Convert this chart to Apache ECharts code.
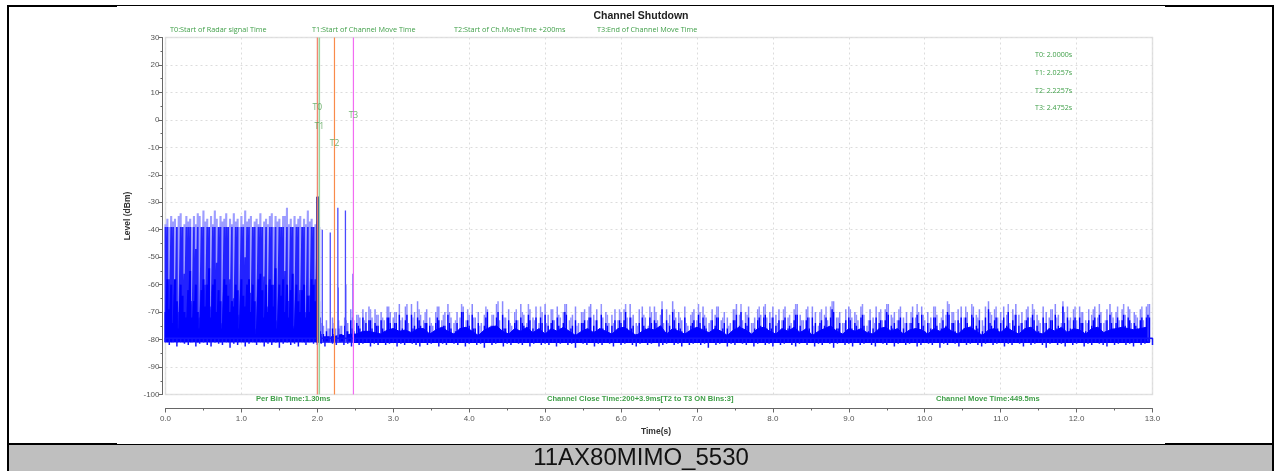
<!DOCTYPE html>
<html><head><meta charset="utf-8">
<style>html,body{margin:0;padding:0;background:#fff;overflow:hidden}#c{width:1276px;height:471px;filter:blur(0.35px)}</style>
<script src="https://cdn.jsdelivr.net/npm/echarts@6/dist/echarts.min.js"></script>
</head><body><div id="c"></div>
<script>
// Marker times (s), colours and label levels
const markerNames = ['T0','T1','T2','T3'];
const markerTimes = [2.0000,2.0257,2.2257,2.4752];
const markerLabelLevels = [4.3,-2.6,-8.8,1.4];
const markerColors = ['#f4806a','#9fd49f','#f98b4a','#f26cf2'];
// Radar burst section, one value every 0.025 s from t=0
const burstTops = [-38,-36,-39,-35,-37,-36,-39,-35,-34,-39,-38,-35,-37,-36,-39,-35,-38,-34,-35,-39,-33,-37,-36,-39,-35,-38,-33,-36,-39,-35,-37,-36,-34,-39,-36,-38,-34,-37,-36,-39,-35,-38,-33,-37,-36,-35,-39,-37,-36,-38,-34,-39,-37,-36,-38,-35,-34,-39,-35,-37,-36,-39,-35,-35,-32,-38,-36,-39,-35,-38,-36,-35,-39,-36,-38,-33,-37,-36,-39,-38,-37,-39];
const burstLevels = [-39,-39,-58,-39,-39,-62,-39,-70,-39,-39,-56,-39,-39,-39,-66,-39,-47,-39,-72,-39,-39,-60,-39,-39,-68,-39,-39,-52,-39,-39,-74,-39,-39,-39,-58,-39,-65,-39,-39,-71,-39,-39,-50,-39,-39,-63,-39,-39,-76,-39,-39,-39,-57,-39,-68,-39,-39,-60,-39,-73,-39,-39,-39,-55,-39,-66,-39,-39,-75,-39,-39,-62,-39,-39,-70,-39,-64,-39,-39,-58,-39,-66];
const burstBody = [-70,-58,-69,-60,-74,-58,-66,-76,-60,-64,-70,-72,-62,-55,-72,-66,-60,-70,-76,-62,-58,-68,-60,-54,-72,-60,-58,-70,-62,-66,-76,-58,-60,-64,-70,-66,-68,-60,-62,-76,-58,-64,-68,-60,-58,-70,-60,-66,-78,-58,-56,-62,-72,-60,-70,-58,-60,-68,-54,-76,-60,-64,-58,-70,-60,-72,-62,-56,-76,-60,-66,-70,-62,-60,-72,-64,-70,-58,-60,-66,-62,-72];
// Noise after the channel move, one value every 0.04 s from t=2.04
const noiseTops = [
-72,-75,-73,-76,-72,-76,-73,-75,-72,-74,-69,-73,-71,-72,-69,-70,-68,-72,-69,-71,-70,-73,-68,-70,-72,
-70,-67,-72,-68,-74,-67,-70,-66,-71,-73,-69,-72,-75,-70,-68,-73,-70,-67,-72,-74,-70,-72,-68,-73,-71,
-67,-72,-70,-74,-71,-69,-75,-71,-67,-73,-66,-72,-69,-75,-70,-73,-67,-71,-74,-69,-72,-68,-74,-70,-67,
-71,-69,-73,-68,-72,-70,-67,-73,-71,-68,-74,-70,-69,-73,-67,-71,-69,-76,-72,-70,-74,-71,-69,-73,-70,
-69,-72,-67,-71,-74,-69,-68,-72,-75,-70,-68,-73,-71,-74,-69,-71,-66,-72,-70,-73,-68,-75,-71,-69,-73,
-70,-68,-72,-74,-69,-71,-68,-73,-70,-72,-74,-69,-67,-71,-73,-70,-68,-74,-72,-69,-71,-68,-72,-70,-68,
-71,-69,-73,-68,-72,-74,-69,-67,-71,-73,-69,-72,-68,-70,-75,-69,-71,-73,-68,-66,-72,-70,-74,-69,-68,
-72,-70,-73,-68,-71,-75,-69,-72,-68,-70,-73,-69,-67,-71,-70,-73,-68,-72,-70,-74,-68,-72,-70,-68,-73,
-70,-72,-68,-71,-74,-69,-71,-67,-70,-73,-69,-68,-72,-70,-75,-68,-71,-69,-73,-68,-66,-71,-69,-72,-70,
-68,-71,-74,-69,-67,-71,-70,-73,-68,-72,-69,-71,-74,-68,-70,-72,-69,-67,-71,-74,-70,-68,-72,-69,-73,
-68,-70,-73,-69,-71,-68,-72,-70,-74,-69,-67,-72,-70,-73,-69,-71,-68,-74,-70,-72,-69,-73,-68,-67];
const noiseBody = [
-77,-78,-77,-79,-76,-79,-76,-78,-75,-77,-73,-77,-74,-76,-72,-74,-73,-76,-74,-75,-73,-77,-72,-74,-76,
-74,-71,-76,-73,-78,-71,-75,-72,-75,-77,-74,-75,-78,-74,-73,-77,-75,-71,-76,-78,-74,-76,-70,-77,-75,
-71,-76,-74,-78,-75,-70,-78,-75,-72,-77,-71,-76,-73,-78,-74,-77,-72,-75,-78,-73,-76,-72,-77,-74,-71,
-75,-74,-77,-72,-76,-74,-71,-77,-75,-73,-78,-74,-73,-77,-72,-75,-73,-79,-76,-74,-78,-75,-73,-77,-74,
-73,-76,-72,-75,-78,-74,-72,-76,-78,-74,-73,-77,-75,-78,-73,-75,-70,-76,-74,-77,-72,-78,-75,-73,-77,
-74,-72,-76,-78,-73,-75,-72,-77,-74,-76,-78,-73,-71,-75,-77,-74,-72,-78,-76,-73,-75,-72,-76,-74,-72,
-75,-73,-77,-72,-76,-78,-73,-71,-75,-77,-73,-76,-72,-74,-78,-73,-75,-77,-72,-70,-76,-74,-78,-73,-72,
-76,-74,-77,-72,-75,-78,-73,-76,-72,-74,-77,-73,-71,-75,-74,-77,-72,-76,-74,-78,-72,-76,-74,-71,-77,
-74,-76,-72,-75,-78,-73,-75,-71,-74,-77,-73,-72,-76,-74,-78,-72,-75,-73,-77,-72,-69,-75,-73,-76,-74,
-72,-75,-78,-73,-71,-75,-74,-77,-72,-76,-73,-75,-78,-72,-74,-76,-73,-71,-75,-78,-74,-72,-76,-73,-77,
-72,-74,-77,-73,-75,-72,-76,-74,-78,-73,-71,-76,-74,-77,-73,-75,-72,-78,-74,-76,-73,-77,-72,-72];
// Extra pulses between the others, one value every 0.08 s from t=2.06
const extraTops = [
-74,-76,-74,-75,-73,-72,-71,-73,-69,-71,-72,-68,-70,-73,-67,
-72,-69,-70,-74,-68,-71,-70,-73,-67,-69,-72,-75,-68,-71,-66,
-72,-74,-69,-70,-67,-73,-68,-74,-69,-71,-67,-72,-75,-70,-68,
-73,-67,-71,-74,-69,-67,-72,-75,-71,-68,-70,-66,-74,-69,-72,
-74,-70,-67,-71,-73,-68,-72,-75,-69,-67,-71,-74,-68,-67,-72,
-74,-69,-71,-67,-73,-68,-75,-70,-68,-66,-72,-74,-69,-71,-67,
-73,-74,-69,-67,-72,-69,-74,-70,-67,-71,-74,-68,-72,-66,-70,
-74,-68,-67,-72,-75,-70,-68,-73,-67,-71,-74,-69,-67,-73,-74,
-69,-72,-66,-73,-68,-70,-74,-69,-67,-73,-70,-68,-67,-69,-71,-68,-67];
const extraBody = [
-78,-79,-78,-78,-77,-76,-75,-77,-73,-75,-76,-72,-74,-77,-71,
-76,-73,-74,-78,-72,-75,-74,-77,-70,-73,-76,-79,-72,-75,-70,
-76,-78,-73,-74,-71,-77,-72,-78,-73,-75,-70,-76,-79,-74,-72,
-77,-71,-75,-78,-73,-70,-76,-79,-75,-72,-74,-69,-78,-73,-76,
-78,-74,-71,-75,-77,-72,-76,-79,-73,-70,-75,-78,-72,-71,-76,
-78,-73,-75,-71,-77,-72,-79,-74,-72,-69,-76,-78,-73,-75,-71,
-77,-78,-73,-70,-76,-73,-78,-74,-71,-75,-78,-72,-76,-70,-74,
-78,-72,-71,-76,-79,-74,-72,-77,-70,-75,-78,-73,-71,-77,-78,
-73,-76,-68,-77,-72,-74,-78,-73,-71,-77,-74,-72,-71,-73,-75,-72,-71];
// Top of the solid mass of the noise, one value every 0.08 s from t=2.04
const bandLevels = [
-79,-79,-79,-78.5,-78.5,-78,-78,-77,-77,-77.5,-78,-76.5,-76,-77,-76.5,
-77.5,-76,-76,-78,-76.5,-75.5,-77,-78,-76,-75.5,-77,-78.5,-76.5,-75.5,-75,
-77,-78,-76,-77,-75.5,-77.5,-76,-78,-76,-77,-75.5,-77,-78.5,-77,-76,
-77.5,-76,-77,-78,-76,-75.5,-77,-78.5,-77,-76,-76.5,-75,-78,-76,-77,
-78,-76.5,-75.5,-76.5,-77.5,-76,-77,-78.5,-76.5,-75.5,-76.5,-78,-76,-75.5,-77,
-78,-76,-77,-75.5,-77.5,-76,-78.5,-77,-76,-75,-77,-78,-76,-77,-76,
-77.5,-78,-76,-75.5,-77,-76,-78,-76.5,-76,-76.5,-78,-76,-77,-75.5,-77,
-78,-76,-75.5,-77,-78.5,-76.5,-76,-77.5,-75.5,-77,-78,-76,-75.5,-77.5,-78,
-76,-77,-75.5,-77.5,-76,-76.5,-78,-76,-75.5,-77.5,-76.5,-76,-75.5,-76,-76.5,-76,-75.5];
// Lower edge of the trace, one value every 0.05 s from t=0
const floorLevels = [
-81,-82,-81,-82.5,-81,-81.5,-82,-81,-82.5,-81.5,-81,-82,-82.5,-81,-81.5,-82,-81,-83,-81.5,-82,
-81,-82.5,-81.5,-81,-82,-81,-82.5,-81.5,-82,-81,-83,-81.5,-81,-82,-81.5,-82.5,-81,-82,-81,-81.5,
-82,-81.5,-82.5,-81,-81.5,-82,-81,-82,-81.5,-82.5,-81,-82,-81.5,-81,-82.5,-81.5,-82,-81,-82,-81.5,
-81,-82.5,-81.5,-82,-81,-81.5,-82,-82.5,-81,-82,-81.5,-81,-82.5,-81.5,-82,-81,-81.5,-82,-81,-82.5,
-81.5,-81,-82,-81.5,-83,-81,-82,-81.5,-81,-82.5,-81.5,-82,-81,-81.5,-82,-81,-82.5,-81.5,-81,-82,
-81.5,-82,-81,-82.5,-81.5,-81,-82,-81.5,-83,-81,-81.5,-82,-81,-82.5,-81.5,-82,-81,-81.5,-82.5,-81,
-82,-81.5,-81,-82,-82.5,-81.5,-81,-82,-81.5,-81,-82.5,-82,-81.5,-81,-82,-81.5,-82.5,-81,-82,-81.5,
-81,-82,-81.5,-83,-81,-82,-81.5,-81,-82.5,-81.5,-82,-81,-81.5,-82,-81,-82.5,-81.5,-81,-82,-81.5,
-82.5,-81,-82,-81.5,-81,-82,-82.5,-81.5,-81,-82,-81,-82.5,-81.5,-82,-81,-81.5,-83,-81.5,-81,-82,
-81.5,-82.5,-81,-82,-81.5,-81,-82,-82.5,-81,-81.5,-82,-81,-82.5,-81.5,-81,-82,-81.5,-81,-82.5,-82,
-81,-81.5,-82,-81,-83,-81.5,-82,-81,-81.5,-82.5,-81,-82,-81.5,-81,-82,-82.5,-81.5,-81,-82,-81.5,
-81,-82.5,-81.5,-82,-81,-81.5,-82.5,-81,-82,-81.5,-81,-82,-83,-81.5,-81,-82,-81.5,-82.5,-81,-82,
-81.5,-81,-82.5,-81.5,-82,-81,-81.5,-82,-82.5,-81,-82,-81.5,-81,-82,-81.5,-82.5,-81,-82,-81.5,-81,-82];
// Isolated pulses after T1
const pulseTimes = [2.065,2.17,2.27,2.37,2.47,2.275,2.375];
const pulseLevels = [-40,-41,-32,-33,-56,-61,-60];
// Strong pulse at T0
const strongTimes = [1.995,2.005,2.015,2.025];
const strongLevels = [-28,-28,-28,-28];
// Axis ticks
const xTicks = [0,1,2,3,4,5,6,7,8,9,10,11,12,13];
const yMin = -100, yMax = 30, xMin = 0, xMax = 13;
// Texts
const headNotes = ['T0:Start of Radar signal Time','T1:Start of Channel Move Time','T2:Start of Ch.MoveTime +200ms','T3:End of Channel Move Time'];
const valueNotes = ['T0: 2.0000s','T1: 2.0257s','T2: 2.2257s','T3: 2.4752s'];
const footNotes = ['Per Bin Time:1.30ms','Channel Close Time:200+3.9ms[T2 to T3 ON Bins:3]','Channel Move Time:449.5ms'];
const caption = '11AX80MIMO_5530';

function comb(start, step, vals, base){
  const out = [];
  vals.forEach((v,i)=>{const t=start+i*step; out.push([t,base],[t,v],[t,base]);});
  return out;
}
function combAt(times, vals, base){
  const out = [];
  vals.forEach((v,i)=>{out.push([times[i],base],[times[i],v],[times[i],base]);});
  return out;
}
function trace(data,color,width,z){
  return {type:'line',data,showSymbol:false,symbol:'none',silent:true,animation:false,z,
    lineStyle:{color,width,join:'bevel',cap:'butt'}};
}
const green = '#3f9f48';
const noteFont = '"Open Sans"';
const graphics = [];
function rect(x,y,w,h,fill,z=1){graphics.push({type:'rect',silent:true,z,shape:{x,y,width:w,height:h},style:{fill}});}
function txt(x,y,text,style){graphics.push({type:'text',silent:true,z:60,x,y,style:Object.assign({text,textVerticalAlign:'middle'},style)});}
rect(9,445,1264,26,'#bfbfbf');
rect(7,5,2,466,'#000'); rect(1272,5,2,466,'#000');
rect(7,5,110,2,'#000'); rect(117,5,1048,1,'#000'); rect(1165,5,109,2,'#000');
rect(7,443,110,2,'#000'); rect(117,444,1048,1,'#000'); rect(1165,443,109,2,'#000');
[170,312,454,597].forEach((x,i)=>txt(x,30,headNotes[i],{fill:green,font:'7.25px '+noteFont}));
[55,73,91,108].forEach((y,i)=>txt(1035,y,valueNotes[i],{fill:green,font:'7.1px '+noteFont}));
[256,547,936].forEach((x,i)=>txt(x,399,footNotes[i],{fill:green,font:'bold 7.6px "Liberation Sans"'}));
txt(641,16,'Channel Shutdown',{fill:'#222',font:'bold 10.5px "Liberation Sans"',textAlign:'center'});
txt(641,458,caption,{fill:'#111',font:'24px "Liberation Sans"',textAlign:'center'});

const series = [
  trace(comb(0,0.025,burstTops,-81),'#9d9dff',2.1,2),
  trace(comb(0,0.025,burstLevels,-81),'#2222ff',1.7,3),
  trace(comb(0,0.025,burstBody,-81),'#0000ff',2,4),
  trace(comb(2.04,0.04,noiseTops,-81),'#8888ff',1.5,2),
  trace(comb(2.06,0.08,extraTops,-81),'#9494ff',1.5,2),
  trace(comb(2.04,0.04,noiseBody,-81),'#0000ff',1.4,4),
  trace(comb(2.06,0.08,extraBody,-81),'#0000ff',1.4,4),
  Object.assign(trace(bandLevels.map((v,i)=>[2.04+i*0.08,v]),'#0000ff',1,4),{areaStyle:{color:'#0000ff',opacity:1,origin:-81}}),
  trace(combAt(pulseTimes,pulseLevels,-81),'#4a4aff',1.3,4),
  trace(combAt(strongTimes,strongLevels,-81),'#00009a',1,6),
  trace(comb(0,0.05,floorLevels,-79.5),'#1414ff',1.5,5),
  ...markerTimes.map((t,i)=>trace([[t,yMax],[t,yMin]],markerColors[i],i===1?1.6:1.2,8)),
  {type:'scatter',symbolSize:0,silent:true,animation:false,z:50,
   data:markerTimes.map((t,i)=>({value:[t,markerLabelLevels[i]],
     label:{show:true,position:'inside',formatter:markerNames[i],color:'#4f9f4f',fontSize:8.5,fontFamily:noteFont}}))}
];
const axisColor='#666', labelColor='#555';
const chart = echarts.init(document.getElementById('c'),null,{renderer:'canvas'});
chart.setOption({
  animation:false,
  backgroundColor:'#fff',
  graphic:{elements:graphics},
  grid:{left:165.5,top:37.5,width:987,height:357,show:true,borderColor:'#e2e2e2',borderWidth:1.5,containLabel:false,backgroundColor:'#fff'},
  xAxis:{type:'value',min:xMin,max:xMax,interval:1,offset:14,position:'bottom',
    name:'Time(s)',nameLocation:'middle',nameGap:10,
    nameTextStyle:{fontSize:8.5,fontWeight:'bold',color:'#333',fontFamily:'Liberation Sans',padding:[0,6,0,0]},
    axisLine:{show:true,onZero:false,lineStyle:{color:axisColor,width:1}},
    axisTick:{show:true,inside:false,length:4,lineStyle:{color:axisColor}},
    minorTick:{show:true,splitNumber:2,length:2,lineStyle:{color:axisColor}},
    axisLabel:{fontSize:8,color:labelColor,margin:6,fontFamily:'Liberation Sans',showMinLabel:true,showMaxLabel:true,formatter:v=>xTicks.includes(v)?v.toFixed(1):''},
    splitLine:{show:true,lineStyle:{type:[2,3],color:'#dcdcdc',width:1}}},
  yAxis:{type:'value',min:yMin,max:yMax,interval:10,offset:3,position:'left',
    name:'Level (dBm)',nameLocation:'middle',nameGap:18,nameRotate:90,
    nameTextStyle:{fontSize:8.5,fontWeight:'bold',color:'#333',fontFamily:'Liberation Sans'},
    axisLine:{show:true,onZero:false,lineStyle:{color:axisColor,width:1}},
    axisTick:{show:true,inside:false,length:4,lineStyle:{color:axisColor}},
    minorTick:{show:true,splitNumber:2,length:2,lineStyle:{color:axisColor}},
    axisLabel:{fontSize:8,color:labelColor,margin:3,fontFamily:'Liberation Sans'},
    splitLine:{show:true,lineStyle:{type:[2,3],color:'#dcdcdc',width:1}}},
  series
});
</script></body></html>
